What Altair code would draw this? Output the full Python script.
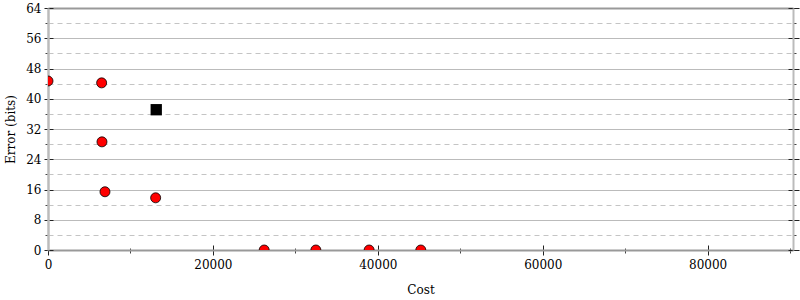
import altair as alt
import pandas as pd

# data
circle_cost = [0, 6505, 6545, 6909, 13055, 26218, 32485, 38945, 45212]
circle_err = [44.7, 44.2, 28.6, 15.4, 13.8, 0, 0, 0, 0]
square_cost = [13127]
square_err = [37.1]

x_major = [0, 20000, 40000, 60000, 80000]
x_minor = [10000, 30000, 50000, 70000, 90000]
y_major = [0, 8, 16, 24, 32, 40, 48, 56, 64]
y_minor = [4, 12, 20, 28, 36, 44, 52, 60]

circles = pd.DataFrame({"cost": circle_cost, "err": circle_err})
squares = pd.DataFrame({"cost": square_cost, "err": square_err})

FONT = "DejaVu Serif"
xs = alt.Scale(domain=[0, 90350], nice=False, zero=True)
ys = alt.Scale(domain=[0, 64], nice=False, zero=True)


def xenc(axis):
    return alt.X("cost:Q", scale=xs, axis=axis)


def yenc(axis):
    return alt.Y("err:Q", scale=ys, axis=axis)


layer_a = alt.Chart(circles).mark_point(
    shape="circle", filled=True, fill="#ff0000", stroke="#000000",
    strokeWidth=0.8, size=100, opacity=1, clip=True
).encode(
    x=xenc(alt.Axis(orient="bottom", values=x_major, title="Cost", format="d",
                    labelFont=FONT, titleFont=FONT, labelFontSize=12, titleFontSize=12,
                    titleFontWeight="normal", labelColor="#000", titleColor="#000",
                    domainColor="#999999", domainWidth=2, tickColor="#222",
                    tickSize=5, tickWidth=1, labelPadding=4, titlePadding=14,
                    grid=False, labelFlush=False)),
    y=yenc(alt.Axis(orient="left", values=y_major, title="Error (bits)",
                    labelFont=FONT, titleFont=FONT, labelFontSize=12, titleFontSize=12,
                    titleFontWeight="normal", labelColor="#000", titleColor="#000",
                    domainColor="#bbbbbb", domainWidth=2.5, tickColor="#222",
                    tickSize=4, tickWidth=1, labelPadding=3, titlePadding=8,
                    grid=True, gridColor="#bbbbbb", gridWidth=1, labelFlush=False)),
)

layer_b = alt.Chart(squares).mark_point(
    shape="square", filled=True, fill="#000000", size=128, opacity=1, clip=True
).encode(
    x=xenc(alt.Axis(orient="top", labels=False, ticks=False, title=None, grid=False,
                    domainColor="#999999", domainWidth=2)),
    y=yenc(alt.Axis(orient="right", values=y_major, labels=False, title=None, grid=False,
                    domainColor="#bbbbbb", domainWidth=2, tickColor="#222",
                    tickSize=6, tickWidth=1)),
)

layer_c = alt.Chart(circles).mark_point(opacity=0).encode(
    x=xenc(alt.Axis(orient="bottom", values=x_minor, labels=False, title=None,
                    grid=False, domain=False, tickColor="#444", tickSize=3, tickWidth=1)),
    y=yenc(alt.Axis(orient="left", values=y_minor, labels=False, title=None,
                    grid=True, gridColor="#c4c4c4", gridDash=[5, 4], gridWidth=1,
                    domain=False, tickColor="#444", tickSize=3, tickWidth=1)),
)

layer_d = alt.Chart(circles).mark_point(opacity=0).encode(
    x=xenc(alt.Axis(orient="bottom", values=x_major, labels=False, title=None,
                    grid=False, domain=False, tickColor="#222", tickSize=5,
                    tickWidth=1, offset=-5)),
    y=yenc(alt.Axis(orient="left", values=y_major, labels=False, title=None,
                    grid=False, domain=False, tickColor="#222", tickSize=5,
                    tickWidth=1, offset=-5)),
)

layer_e = alt.Chart(circles).mark_point(opacity=0).encode(
    x=xenc(alt.Axis(orient="bottom", values=x_minor, labels=False, title=None,
                    grid=False, domain=False, tickColor="#444", tickSize=2,
                    tickWidth=1, offset=-2)),
    y=yenc(alt.Axis(orient="right", values=y_major, labels=False, title=None,
                    grid=False, domain=False, tickColor="#222", tickSize=5,
                    tickWidth=1, offset=-5)),
)

layer_f = alt.Chart(circles).mark_point(opacity=0).encode(
    x=xenc(None),
    y=yenc(alt.Axis(orient="right", values=y_minor, labels=False, title=None,
                    grid=False, domain=False, tickColor="#444", tickSize=3,
                    tickWidth=1)),
)

chart = alt.layer(layer_c, layer_d, layer_e, layer_f, layer_a, layer_b).resolve_axis(
    x="independent", y="independent"
).properties(
    width=745, height=242,
    autosize=alt.AutoSizeParams(type="none"),
    padding={"left": 48, "top": 8, "right": 7, "bottom": 50},
    background="white",
).configure_view(stroke=None)

chart.save("out.html", embed_options={"renderer": "svg", "actions": False})
